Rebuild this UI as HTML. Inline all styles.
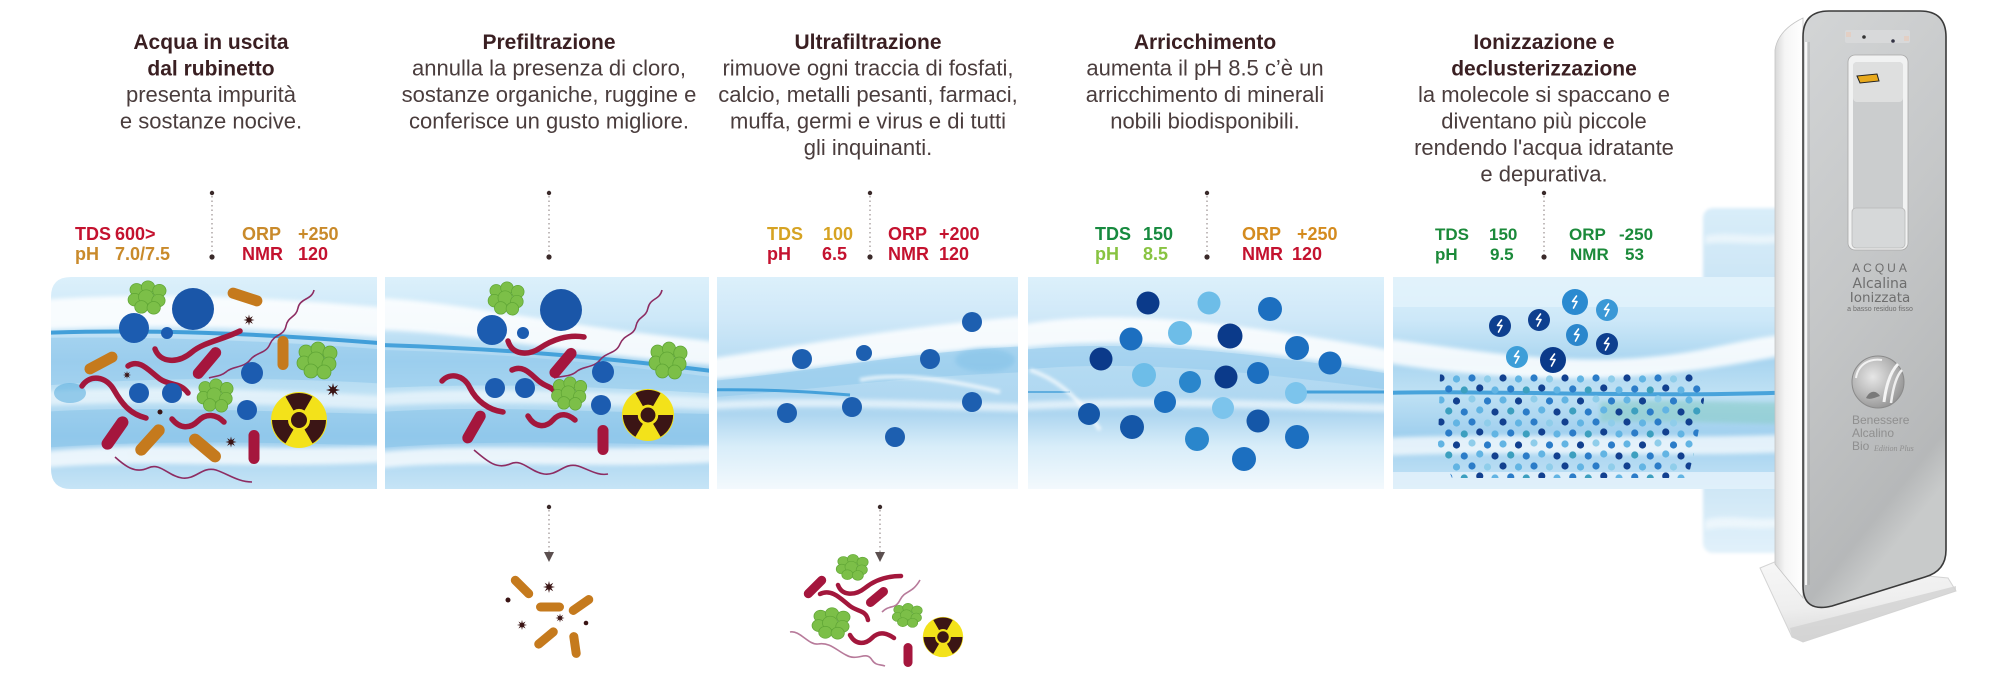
<!DOCTYPE html>
<html><head><meta charset="utf-8">
<style>
html,body{margin:0;padding:0;background:#fff;}
svg{display:block;}
</style></head><body>
<svg width="2000" height="679" viewBox="0 0 2000 679" xmlns="http://www.w3.org/2000/svg" xmlns:xlink="http://www.w3.org/1999/xlink">
<defs>
 <linearGradient id="bandG" x1="0" y1="277" x2="0" y2="489" gradientUnits="userSpaceOnUse">
  <stop offset="0" stop-color="#dcf0fb"/>
  <stop offset="0.2" stop-color="#cde8f8"/>
  <stop offset="0.4" stop-color="#a9d5f0"/>
  <stop offset="0.55" stop-color="#bfe1f4"/>
  <stop offset="0.75" stop-color="#9fcfee"/>
  <stop offset="1" stop-color="#c6e4f6"/>
 </linearGradient>
 <linearGradient id="bandW" x1="0" y1="277" x2="0" y2="489" gradientUnits="userSpaceOnUse">
  <stop offset="0" stop-color="#dcf0fb"/>
  <stop offset="0.2" stop-color="#cfe8f8"/>
  <stop offset="0.45" stop-color="#b3daf2"/>
  <stop offset="0.65" stop-color="#aed6f0"/>
  <stop offset="0.8" stop-color="#d8edf9"/>
  <stop offset="1" stop-color="#f3f9fd"/>
 </linearGradient>
 <linearGradient id="wingG" x1="0" y1="208" x2="0" y2="553" gradientUnits="userSpaceOnUse">
  <stop offset="0" stop-color="#d9edf9"/>
  <stop offset="0.2" stop-color="#cde6f6"/>
  <stop offset="0.5" stop-color="#b9ddf3"/>
  <stop offset="0.8" stop-color="#cde6f6"/>
  <stop offset="1" stop-color="#e2f1fa"/>
 </linearGradient>
 <linearGradient id="frontG" x1="0" y1="0" x2="0.3" y2="1">
  <stop offset="0" stop-color="#d3d5d6"/>
  <stop offset="0.5" stop-color="#c5c7c8"/>
  <stop offset="0.92" stop-color="#b6b8b9"/>
  <stop offset="1" stop-color="#c8caca"/>
 </linearGradient>
 <linearGradient id="sideG" x1="0" y1="0" x2="1" y2="0">
  <stop offset="0" stop-color="#d8d8d8"/>
  <stop offset="0.35" stop-color="#f5f5f5"/>
  <stop offset="1" stop-color="#ffffff"/>
 </linearGradient>
 <linearGradient id="baseG" x1="0" y1="0" x2="0.2" y2="1">
  <stop offset="0" stop-color="#f7f7f7"/>
  <stop offset="0.6" stop-color="#eeeeee"/>
  <stop offset="1" stop-color="#dadada"/>
 </linearGradient>
 <radialGradient id="logoG" cx="0.4" cy="0.4" r="0.7">
  <stop offset="0" stop-color="#e6e6e6"/>
  <stop offset="0.6" stop-color="#b4b4b4"/>
  <stop offset="1" stop-color="#8c8c8c"/>
 </radialGradient>
 <filter id="bl2" x="-20%" y="-100%" width="140%" height="300%"><feGaussianBlur stdDeviation="2"/></filter>
 <filter id="bl1" x="-20%" y="-20%" width="140%" height="140%"><feGaussianBlur stdDeviation="1.5"/></filter>
 <clipPath id="c1"><path d="M71,277 H377 V489 H71 Q51,489 51,469 V297 Q51,277 71,277 Z"/></clipPath>
 <clipPath id="c2"><rect x="385" y="277" width="324" height="212"/></clipPath>
 <clipPath id="c3"><rect x="717" y="277" width="301" height="212"/></clipPath>
 <clipPath id="c4"><rect x="1028" y="277" width="356" height="212"/></clipPath>
 <clipPath id="c5"><rect x="1393" y="277" width="400" height="212"/></clipPath>
 <path id="star" d="M5,0 L1.85,0.77 L3.54,3.54 L0.77,1.85 L0,5 L-0.77,1.85 L-3.54,3.54 L-1.85,0.77 L-5,0 L-1.85,-0.77 L-3.54,-3.54 L-0.77,-1.85 L0,-5 L0.77,-1.85 L3.54,-3.54 L1.85,-0.77 Z" fill="#3a1414"/>
 <g id="grape" stroke="#5fa535" stroke-width="0.8" fill="#7cbf48">
  <circle cx="-12" cy="-8" r="7"/><circle cx="0" cy="-11" r="7"/><circle cx="12" cy="-7" r="7"/>
  <circle cx="-14" cy="3" r="7"/><circle cx="-2" cy="0" r="8"/><circle cx="11" cy="4" r="7"/>
  <circle cx="-7" cy="11" r="7"/><circle cx="6" cy="12" r="7"/>
 </g>
 <g id="rad">
  <circle r="28" fill="#f3e21a"/>
  <g fill="#3b1515">
   <path d="M-5.5,-9.53 L-13.5,-23.38 A27,27 0 0 1 13.5,-23.38 L5.5,-9.53 A11,11 0 0 0 -5.5,-9.53 Z"/>
   <path d="M-11,0 L-27,0 A27,27 0 0 0 -13.5,23.38 L-5.5,9.53 A11,11 0 0 1 -11,0 Z"/>
   <path d="M11,0 L27,0 A27,27 0 0 1 13.5,23.38 L5.5,9.53 A11,11 0 0 0 11,0 Z"/>
   <circle r="8"/>
  </g>
 </g>
 <path id="bolt" d="M1.5,-6 L-2.5,-0.5 L2,-0.5 L-1.5,6" stroke="#fff" stroke-width="1.6" fill="none" stroke-linejoin="round" stroke-linecap="round"/>
 <pattern id="dots" x="1437" y="374" width="62" height="44" patternUnits="userSpaceOnUse">
  <circle cx="4" cy="4" r="3.6" fill="#12408f"/><circle cx="19.5" cy="5" r="3.6" fill="#62b4e3"/><circle cx="35" cy="4" r="3.6" fill="#2b7cc8"/><circle cx="50.5" cy="5" r="3.6" fill="#8fcdea"/>
  <circle cx="11.75" cy="15" r="3.6" fill="#2b7cc8"/><circle cx="27.25" cy="16" r="3.6" fill="#3c9fbf"/><circle cx="42.75" cy="14" r="3.6" fill="#12408f"/><circle cx="58" cy="16" r="3.6" fill="#62b4e3"/>
  <circle cx="4" cy="26" r="3.6" fill="#62b4e3"/><circle cx="19.5" cy="27" r="3.6" fill="#12408f"/><circle cx="35" cy="25" r="3.6" fill="#8fcdea"/><circle cx="50.5" cy="27" r="3.6" fill="#2b7cc8"/>
  <circle cx="11.75" cy="37" r="3.6" fill="#3c9fbf"/><circle cx="27.25" cy="38" r="3.6" fill="#2b7cc8"/><circle cx="42.75" cy="36" r="3.6" fill="#62b4e3"/><circle cx="58" cy="38" r="3.6" fill="#12408f"/>
 </pattern>
</defs>

<!-- ======== TOP TEXTS ======== -->
<g font-family="'Liberation Sans', Arial, sans-serif" text-anchor="middle">
 <g font-weight="bold" font-size="21" fill="#3a1f22">
  <text x="211" y="49">Acqua in uscita</text>
  <text x="211" y="75.5">dal rubinetto</text>
  <text x="549" y="49">Prefiltrazione</text>
  <text x="868" y="49">Ultrafiltrazione</text>
  <text x="1205" y="49">Arricchimento</text>
  <text x="1544" y="49">Ionizzazione e</text>
  <text x="1544" y="75.5">declusterizzazione</text>
 </g>
 <g font-size="22" fill="#4a3d3d">
  <text x="211" y="102">presenta impurità</text>
  <text x="211" y="128.5">e sostanze nocive.</text>
  <text x="549" y="75.5">annulla la presenza di cloro,</text>
  <text x="549" y="102">sostanze organiche,  ruggine e</text>
  <text x="549" y="128.5">conferisce un gusto migliore.</text>
  <text x="868" y="75.5">rimuove ogni traccia di fosfati,</text>
  <text x="868" y="102">calcio, metalli pesanti, farmaci,</text>
  <text x="868" y="128.5">muffa, germi e virus e di tutti</text>
  <text x="868" y="155">gli inquinanti.</text>
  <text x="1205" y="75.5">aumenta il pH 8.5 c’è un</text>
  <text x="1205" y="102">arricchimento di minerali</text>
  <text x="1205" y="128.5">nobili biodisponibili.</text>
  <text x="1544" y="102">la molecole si spaccano e</text>
  <text x="1544" y="128.5">diventano più piccole</text>
  <text x="1544" y="155">rendendo l'acqua idratante</text>
  <text x="1544" y="181.5">e depurativa.</text>
 </g>
</g>

<!-- dotted connectors -->
<g>
 <g stroke="#9a8f8f" stroke-width="1.2" stroke-dasharray="1.5,3">
  <line x1="212" y1="196" x2="212" y2="255"/>
  <line x1="549" y1="196" x2="549" y2="255"/>
  <line x1="870" y1="196" x2="870" y2="255"/>
  <line x1="1207" y1="196" x2="1207" y2="255"/>
  <line x1="1544" y1="196" x2="1544" y2="255"/>
  <line x1="549" y1="510" x2="549" y2="552"/>
  <line x1="880" y1="510" x2="880" y2="552"/>
 </g>
 <g fill="#3a2a2a">
  <circle cx="212" cy="193" r="2.2"/><circle cx="212" cy="257" r="2.6"/>
  <circle cx="549" cy="193" r="2.2"/><circle cx="549" cy="257" r="2.6"/>
  <circle cx="870" cy="193" r="2.2"/><circle cx="870" cy="257" r="2.6"/>
  <circle cx="1207" cy="193" r="2.2"/><circle cx="1207" cy="257" r="2.6"/>
  <circle cx="1544" cy="193" r="2.2"/><circle cx="1544" cy="257" r="2.6"/>
  <circle cx="549" cy="507" r="2.2"/><circle cx="880" cy="507" r="2.2"/>
 </g>
 <polygon points="544,552 554,552 549,562" fill="#5b4f4f"/>
 <polygon points="875,552 885,552 880,562" fill="#5b4f4f"/>
</g>

<!-- stats -->
<g font-family="'Liberation Sans', Arial, sans-serif" font-weight="bold" font-size="18">
 <text x="75" y="240" fill="#c4122f">TDS</text><text x="115" y="240" fill="#c4122f">600&gt;</text>
 <text x="75" y="260" fill="#c98a2b">pH</text><text x="115" y="260" fill="#c98a2b">7.0/7.5</text>
 <text x="242" y="240" fill="#c98a2b">ORP</text><text x="298" y="240" fill="#c98a2b">+250</text>
 <text x="242" y="260" fill="#c4122f">NMR</text><text x="298" y="260" fill="#c4122f">120</text>

 <text x="767" y="240" fill="#d6a323">TDS</text><text x="823" y="240" fill="#d6a323">100</text>
 <text x="767" y="260" fill="#c4122f">pH</text><text x="822" y="260" fill="#c4122f">6.5</text>
 <text x="888" y="240" fill="#c4122f">ORP</text><text x="939" y="240" fill="#c4122f">+200</text>
 <text x="888" y="260" fill="#c4122f">NMR</text><text x="939" y="260" fill="#c4122f">120</text>

 <text x="1095" y="240" fill="#178a3f">TDS</text><text x="1143" y="240" fill="#178a3f">150</text>
 <text x="1095" y="260" fill="#88c341">pH</text><text x="1143" y="260" fill="#88c341">8.5</text>
 <text x="1242" y="240" fill="#d48b1f">ORP</text><text x="1297" y="240" fill="#d48b1f">+250</text>
 <text x="1242" y="260" fill="#c4122f">NMR</text><text x="1292" y="260" fill="#c4122f">120</text>

 <g fill="#1b8a3a" font-size="17">
  <text x="1435" y="240">TDS</text><text x="1489" y="240">150</text>
  <text x="1435" y="260">pH</text><text x="1490" y="260">9.5</text>
  <text x="1569" y="240">ORP</text><text x="1619" y="240">-250</text>
  <text x="1570" y="260">NMR</text><text x="1625" y="260">53</text>
 </g>
</g>

<!-- ======== ARROW WINGS ======== -->
<rect x="1703" y="208" width="95" height="345" rx="10" fill="url(#wingG)" filter="url(#bl1)"/>
<path d="M1705,236 C1730,230 1760,240 1790,232 L1790,240 C1760,248 1730,240 1705,244 Z" fill="#fff" opacity=".5" filter="url(#bl2)"/>
<path d="M1705,520 C1730,512 1760,524 1790,516 L1790,526 C1760,532 1730,524 1705,530 Z" fill="#fff" opacity=".5" filter="url(#bl2)"/>

<!-- ======== PANEL 1 ======== -->
<g clip-path="url(#c1)">
 <rect x="40" y="277" width="350" height="212" fill="url(#bandG)"/>
 <path d="M40,300 C140,292 260,296 390,308 L390,338 C260,326 140,324 40,330 Z" fill="#fff" opacity=".85" filter="url(#bl2)"/>
 <path d="M40,333 C140,329 260,333 390,344" stroke="#2b93d4" stroke-width="4" fill="none" opacity=".85"/>
 <path d="M40,338 C140,336 260,340 390,350 L390,384 C260,376 140,378 40,386 Z" fill="#8ec7eb" opacity=".55"/>
 <path d="M40,392 C150,384 260,390 390,396 L390,410 C260,404 150,400 40,406 Z" fill="#fff" opacity=".55" filter="url(#bl2)"/>
 <path d="M40,412 C150,405 260,412 390,414 L390,446 C260,442 150,440 40,448 Z" fill="#7fbfe6" opacity=".45"/>
 <path d="M40,452 C150,440 260,452 390,446 L390,462 C260,470 150,458 40,468 Z" fill="#fff" opacity=".75" filter="url(#bl2)"/>
 <ellipse cx="70" cy="393" rx="16" ry="10" fill="#5fb0e0" opacity=".6"/>
</g>
<!-- P1 contents -->
<g>
 <path d="M314,290 C312,300 300,298 298,308 C296,318 288,316 286,326 C284,336 274,334 270,344 C266,354 256,352 250,360 C244,368 232,366 226,372 C220,377 214,376 209,378" stroke="#8d2c62" stroke-width="1.6" fill="none"/>
 <path d="M115,457 C125,466 135,474 148,468 C160,462 168,476 182,478 C196,480 202,466 216,470 C228,474 238,482 252,482" stroke="#8d2c62" stroke-width="1.6" fill="none"/>
 <use xlink:href="#grape" href="#grape" transform="translate(148,297) scale(0.95,0.9)"/>
 <circle cx="193" cy="309" r="21" fill="#1a56a8"/>
 <circle cx="134" cy="328" r="15" fill="#1c5cb0"/>
 <circle cx="167" cy="333" r="6" fill="#1c5cb0"/>
 <rect x="-18" y="-5.5" width="36" height="11" rx="5.5" transform="translate(245,297) rotate(18)" fill="#c57a1d"/>
 <use xlink:href="#star" href="#star" transform="translate(249,320) scale(1.1)"/>
 <g stroke="#a3173c" stroke-width="5.5" fill="none" stroke-linecap="round">
  <path d="M155,349 C160,363 178,364 192,352 C204,342 222,340 240,331"/>
  <path d="M82,386 C90,374 106,376 114,390 C122,404 130,414 146,418"/>
  <path d="M128,366 C140,358 150,372 160,379 C170,386 180,382 188,393"/>
  <path d="M172,419 C180,429 190,429 198,421 C206,413 216,414 224,422"/>
 </g>
 <rect x="-18" y="-5.5" width="36" height="11" rx="5.5" transform="translate(101,363) rotate(-28)" fill="#c57a1d"/>
 <rect x="-19" y="-5.5" width="38" height="11" rx="5.5" transform="translate(207,363) rotate(-50)" fill="#a5163d"/>
 <use xlink:href="#star" href="#star" transform="translate(127,375) scale(0.8)"/>
 <rect x="-17" y="-5.5" width="34" height="11" rx="5.5" transform="translate(283,353) rotate(90)" fill="#c57a1d"/>
 <use xlink:href="#grape" href="#grape" transform="translate(318,360) scale(1,1)"/>
 <circle cx="252" cy="373" r="11" fill="#1c5cb0"/>
 <circle cx="139" cy="393" r="10" fill="#1c5cb0"/>
 <circle cx="172" cy="393" r="10" fill="#1c5cb0"/>
 <use xlink:href="#grape" href="#grape" transform="translate(216,395) scale(0.9,0.9)"/>
 <circle cx="247" cy="410" r="10" fill="#1c5cb0"/>
 <use xlink:href="#rad" href="#rad" transform="translate(299,420)"/>
 <use xlink:href="#star" href="#star" transform="translate(333,390) scale(1.4)"/>
 <circle cx="160" cy="412" r="2.5" fill="#3a1414"/>
 <rect x="-19" y="-6" width="38" height="12" rx="6" transform="translate(115,433) rotate(-55)" fill="#a5163d"/>
 <rect x="-19" y="-6" width="38" height="12" rx="6" transform="translate(150,440) rotate(-48)" fill="#c57a1d"/>
 <rect x="-19" y="-6" width="38" height="12" rx="6" transform="translate(205,448) rotate(40)" fill="#c57a1d"/>
 <use xlink:href="#star" href="#star" transform="translate(231,442) scale(1.1)"/>
 <rect x="-17" y="-5.5" width="34" height="11" rx="5.5" transform="translate(254,447) rotate(90)" fill="#a5163d"/>
</g>

<!-- ======== PANEL 2 ======== -->
<g clip-path="url(#c2)">
 <rect x="380" y="277" width="340" height="212" fill="url(#bandG)"/>
 <path d="M380,298 C460,302 560,326 720,342 L720,366 C560,352 460,332 380,330 Z" fill="#fff" opacity=".85" filter="url(#bl2)"/>
 <path d="M380,345 C470,348 560,352 720,372" stroke="#2b93d4" stroke-width="4" fill="none" opacity=".8"/>
 <path d="M380,350 C470,352 560,358 720,378 L720,394 C560,384 470,384 380,388 Z" fill="#8ec7eb" opacity=".5"/>
 <path d="M380,394 C480,386 580,392 720,398 L720,410 C580,404 480,400 380,406 Z" fill="#fff" opacity=".55" filter="url(#bl2)"/>
 <path d="M380,412 C480,405 580,412 720,414 L720,446 C580,442 480,440 380,448 Z" fill="#7fbfe6" opacity=".45"/>
 <path d="M380,452 C480,442 580,452 720,446 L720,462 C580,470 480,458 380,468 Z" fill="#fff" opacity=".75" filter="url(#bl2)"/>
</g>
<g>
 <path d="M662,290 C660,300 650,298 648,308 C646,318 638,316 636,326 C634,336 624,334 620,344 C616,354 606,352 600,360 C594,368 582,366 576,372 C570,377 560,376 554,378" stroke="#8d2c62" stroke-width="1.6" fill="none"/>
 <path d="M474,450 C486,460 496,470 510,464 C522,458 530,472 544,474 C558,476 564,462 578,466 C590,470 598,476 608,474" stroke="#8d2c62" stroke-width="1.6" fill="none"/>
 <use xlink:href="#grape" href="#grape" transform="translate(507,298) scale(0.9,0.9)"/>
 <circle cx="561" cy="310" r="21" fill="#1a56a8"/>
 <circle cx="492" cy="330" r="15" fill="#1c5cb0"/>
 <circle cx="523" cy="333" r="6" fill="#1c5cb0"/>
 <g stroke="#a3173c" stroke-width="5.5" fill="none" stroke-linecap="round">
  <path d="M508,341 C512,355 528,356 540,348 C552,340 568,334 584,337"/>
  <path d="M442,381 C450,372 464,375 470,388 C476,400 488,410 503,412"/>
  <path d="M512,370 C524,364 532,376 540,382 C548,388 552,386 556,394"/>
  <path d="M528,416 C535,428 546,428 553,420 C560,412 568,414 575,420"/>
 </g>
 <rect x="-18" y="-5.5" width="36" height="11" rx="5.5" transform="translate(563,363) rotate(-50)" fill="#a5163d"/>
 <use xlink:href="#grape" href="#grape" transform="translate(669,360) scale(0.95,1)"/>
 <circle cx="603" cy="372" r="11" fill="#1c5cb0"/>
 <circle cx="495" cy="388" r="10" fill="#1c5cb0"/>
 <circle cx="525" cy="388" r="10" fill="#1c5cb0"/>
 <use xlink:href="#grape" href="#grape" transform="translate(570,393) scale(0.88,0.9)"/>
 <circle cx="601" cy="405" r="10" fill="#1c5cb0"/>
 <use xlink:href="#rad" href="#rad" transform="translate(648,415) scale(0.93)"/>
 <rect x="-18" y="-5.5" width="36" height="11" rx="5.5" transform="translate(474,427) rotate(-60)" fill="#a5163d"/>
 <rect x="-15" y="-5.5" width="30" height="11" rx="5.5" transform="translate(603,440) rotate(90)" fill="#a5163d"/>
</g>

<!-- ======== PANEL 3 ======== -->
<g clip-path="url(#c3)">
 <rect x="710" y="277" width="320" height="212" fill="url(#bandW)"/>
 <path d="M700,360 C800,346 900,326 1030,316 L1030,345 C900,352 800,372 700,380 Z" fill="#fff" opacity=".85" filter="url(#bl2)"/>
 <path d="M700,382 C800,374 900,352 1030,346 L1030,372 C900,376 800,392 700,398 Z" fill="#8fc8eb" opacity=".55"/>
 <path d="M700,390 C760,389 800,391 850,395" stroke="#2b93d4" stroke-width="3" fill="none" opacity=".8"/>
 <path d="M860,380 C900,372 950,380 1000,392" stroke="#fff" stroke-width="4" fill="none" opacity=".7" filter="url(#bl1)"/>
 <ellipse cx="985" cy="360" rx="30" ry="12" fill="#7fbfe6" opacity=".5" filter="url(#bl2)"/>
 <path d="M700,402 C800,396 900,400 1030,404 L1030,412 C900,408 800,404 700,410 Z" fill="#fff" opacity=".6" filter="url(#bl2)"/>
</g>
<g>
 <circle cx="802" cy="359" r="10" fill="#1d5fb0"/>
 <circle cx="864" cy="353" r="8" fill="#1d5fb0"/>
 <circle cx="930" cy="359" r="10" fill="#1d5fb0"/>
 <circle cx="972" cy="322" r="10" fill="#1d5fb0"/>
 <circle cx="787" cy="413" r="10" fill="#1d5fb0"/>
 <circle cx="852" cy="407" r="10" fill="#1d5fb0"/>
 <circle cx="972" cy="402" r="10" fill="#1d5fb0"/>
 <circle cx="895" cy="437" r="10" fill="#1d5fb0"/>
</g>

<!-- ======== PANEL 4 ======== -->
<g clip-path="url(#c4)">
 <rect x="1020" y="277" width="370" height="212" fill="url(#bandW)"/>
 <path d="M1020,325 C1100,310 1200,316 1390,350 L1390,372 C1200,340 1100,338 1020,348 Z" fill="#fff" opacity=".85" filter="url(#bl2)"/>
 <path d="M1020,350 C1100,342 1200,344 1390,374 L1390,390 C1200,364 1100,362 1020,370 Z" fill="#8fc8eb" opacity=".5"/>
 <path d="M1290,392 L1390,392" stroke="#2b93d4" stroke-width="3" fill="none" opacity=".8"/>
 <path d="M1020,392 L1070,392" stroke="#2b93d4" stroke-width="2" fill="none" opacity=".6"/>
 <path d="M1030,370 C1060,380 1080,400 1100,430" stroke="#fff" stroke-width="4" fill="none" opacity=".7" filter="url(#bl1)"/>
 <path d="M1020,402 C1150,396 1250,400 1390,404 L1390,412 C1250,408 1150,404 1020,410 Z" fill="#fff" opacity=".6" filter="url(#bl2)"/>
</g>
<g>
 <circle cx="1148" cy="303" r="11.5" fill="#0b3a8a"/>
 <circle cx="1209" cy="303" r="11.5" fill="#6dbde8"/>
 <circle cx="1270" cy="309" r="12" fill="#1c6fc0"/>
 <circle cx="1131" cy="339" r="11.5" fill="#1c6fc0"/>
 <circle cx="1180" cy="333" r="12" fill="#6dbde8"/>
 <circle cx="1230" cy="336" r="12.5" fill="#0b3a8a"/>
 <circle cx="1297" cy="348" r="12" fill="#1c6fc0"/>
 <circle cx="1330" cy="363" r="11.5" fill="#1c6fc0"/>
 <circle cx="1101" cy="359" r="11.5" fill="#0b3a8a"/>
 <circle cx="1144" cy="375" r="12" fill="#6dbde8"/>
 <circle cx="1190" cy="382" r="11" fill="#2a86cc"/>
 <circle cx="1226" cy="377" r="11.5" fill="#0b3a8a"/>
 <circle cx="1258" cy="373" r="11" fill="#1c6fc0"/>
 <circle cx="1296" cy="393" r="11" fill="#7cc4ec"/>
 <circle cx="1089" cy="414" r="11" fill="#1557a8"/>
 <circle cx="1165" cy="402" r="11" fill="#1c6fc0"/>
 <circle cx="1223" cy="408" r="11" fill="#7cc4ec"/>
 <circle cx="1132" cy="427" r="12" fill="#1557a8"/>
 <circle cx="1197" cy="439" r="12" fill="#2a86cc"/>
 <circle cx="1258" cy="421" r="11.5" fill="#1557a8"/>
 <circle cx="1297" cy="437" r="12" fill="#1c6fc0"/>
 <circle cx="1244" cy="459" r="12" fill="#1c6fc0"/>
</g>

<!-- ======== PANEL 5 ======== -->
<g clip-path="url(#c5)">
 <rect x="1390" y="277" width="410" height="212" fill="url(#bandG)"/>
 <rect x="1390" y="277" width="410" height="30" fill="#e2f2fb" opacity=".8"/>
 <path d="M1380,338 C1480,350 1580,372 1700,350 C1740,342 1770,334 1800,334 L1800,352 C1700,372 1580,394 1380,362 Z" fill="#fff" opacity=".85" filter="url(#bl2)"/>
 <path d="M1380,393 C1500,390 1650,398 1800,392" stroke="#2b93d4" stroke-width="4" fill="none" opacity=".8"/>
 <path d="M1600,402 C1680,398 1740,404 1800,402 L1800,424 C1740,424 1680,420 1600,422 Z" fill="#86cbc4" opacity=".55" filter="url(#bl2)"/>
 <path d="M1380,438 C1500,432 1650,440 1800,434 L1800,452 C1650,458 1500,450 1380,456 Z" fill="#fff" opacity=".7" filter="url(#bl2)"/>
 <rect x="1390" y="472" width="410" height="17" fill="#e6f3fb" opacity=".8"/>
</g>
<path d="M1440,373 L1700,373 L1704,400 L1697,440 L1688,478 L1452,478 L1438,445 Z" fill="url(#dots)"/>
<g>
 <circle cx="1500" cy="326" r="11" fill="#0e3f8f"/><use xlink:href="#bolt" href="#bolt" transform="translate(1500,326)"/>
 <circle cx="1539" cy="320" r="11" fill="#0e3f8f"/><use xlink:href="#bolt" href="#bolt" transform="translate(1539,320)"/>
 <circle cx="1575" cy="302" r="13" fill="#2a8ad0"/><use xlink:href="#bolt" href="#bolt" transform="translate(1575,302)"/>
 <circle cx="1607" cy="310" r="11" fill="#3a98d6"/><use xlink:href="#bolt" href="#bolt" transform="translate(1607,310)"/>
 <circle cx="1577" cy="335" r="11" fill="#2a86cc"/><use xlink:href="#bolt" href="#bolt" transform="translate(1577,335)"/>
 <circle cx="1607" cy="344" r="11" fill="#0e3f8f"/><use xlink:href="#bolt" href="#bolt" transform="translate(1607,344)"/>
 <circle cx="1517" cy="357" r="11" fill="#3d9ed8"/><use xlink:href="#bolt" href="#bolt" transform="translate(1517,357)"/>
 <circle cx="1553" cy="360" r="13" fill="#0a3a8a"/><use xlink:href="#bolt" href="#bolt" transform="translate(1553,360)"/>
</g>

<!-- ======== BOTTOM DEBRIS ======== -->
<g>
 <rect x="-14" y="-4.5" width="28" height="9" rx="4.5" transform="translate(522,587) rotate(45)" fill="#c57a1d"/>
 <use xlink:href="#star" href="#star" transform="translate(549,587) scale(1.2)"/>
 <circle cx="508" cy="600" r="2.5" fill="#3a1414"/>
 <rect x="-14" y="-4.5" width="28" height="9" rx="4.5" transform="translate(550,607)" fill="#c57a1d"/>
 <rect x="-14" y="-4.5" width="28" height="9" rx="4.5" transform="translate(581,605) rotate(-35)" fill="#c57a1d"/>
 <use xlink:href="#star" href="#star" transform="translate(522,625) scale(1)"/>
 <use xlink:href="#star" href="#star" transform="translate(560,618) scale(0.9)"/>
 <circle cx="586" cy="623" r="2.3" fill="#3a1414"/>
 <rect x="-14" y="-4.5" width="28" height="9" rx="4.5" transform="translate(546,638) rotate(-40)" fill="#c57a1d"/>
 <rect x="-13" y="-4.5" width="26" height="9" rx="4.5" transform="translate(575,645) rotate(82)" fill="#c57a1d"/>
</g>
<g>
 <path d="M790,632 C800,630 808,645 818,644 C830,642 836,650 846,655 C858,662 866,650 872,660 C876,666 880,664 885,666" stroke="#b77a9a" stroke-width="1.6" fill="none"/>
 <path d="M882,612 C890,604 895,610 900,600 C905,590 912,594 920,580" stroke="#b77a9a" stroke-width="1.6" fill="none"/>
 <use xlink:href="#grape" href="#grape" transform="translate(853,567) scale(0.8,0.7)"/>
 <rect x="-14" y="-4.5" width="28" height="9" rx="4.5" transform="translate(815,587) rotate(-45)" fill="#a5163d"/>
 <rect x="-13" y="-4.5" width="26" height="9" rx="4.5" transform="translate(877,597) rotate(-40)" fill="#a5163d"/>
 <g stroke="#a3173c" stroke-width="4.5" fill="none" stroke-linecap="round">
  <path d="M838,585 C842,596 855,596 865,588 C875,580 888,576 901,576"/>
  <path d="M820,594 C832,588 842,600 850,606 C858,612 866,610 868,620"/>
  <path d="M850,635 C856,646 866,644 872,638 C880,630 888,634 894,638"/>
 </g>
 <use xlink:href="#grape" href="#grape" transform="translate(832,623) scale(0.95,0.85)"/>
 <use xlink:href="#grape" href="#grape" transform="translate(908,615) scale(0.75,0.65)"/>
 <rect x="-12" y="-4.5" width="24" height="9" rx="4.5" transform="translate(908,655) rotate(90)" fill="#a5163d"/>
 <use xlink:href="#rad" href="#rad" transform="translate(943,637) scale(0.72)"/>
</g>

<!-- ======== MACHINE ======== -->
<g>
 <polygon points="1760,568 1777,561 1948,578 1956,591 1803,642 1792,637" fill="url(#baseG)" stroke="#d4d4d4" stroke-width="1"/>
 <polygon points="1790,628 1956,586 1956,591 1803,642 1792,637" fill="#d2d2d2" opacity=".8"/>
 <path d="M1775,50 Q1778,30 1803,18 L1803,598 L1775,564 Z" fill="url(#sideG)" stroke="#c4c4c4" stroke-width="0.8"/>
 <path d="M1829,11 H1920 Q1946,11 1946,37 V550 Q1946,571 1925,577 L1832,606 Q1803,613 1803,586 V37 Q1803,11 1829,11 Z" fill="url(#frontG)" stroke="#3a3a3a" stroke-width="1.6"/>
 <path d="M1806,42 V585" stroke="#ffffff" stroke-width="2" opacity=".85"/>
 <path d="M1809,42 V585" stroke="#9a9a9a" stroke-width="1" opacity=".6"/>
 <!-- control strip -->
 <rect x="1845" y="30" width="65" height="13" rx="2" fill="#d8d9da"/>
 <rect x="1846" y="32" width="5" height="5" fill="#e3cfc4"/>
 <rect x="1904" y="36" width="5" height="5" fill="#e3cfc4"/>
 <circle cx="1864" cy="37" r="1.8" fill="#333"/>
 <circle cx="1893" cy="41" r="1.8" fill="#334"/>
 <!-- niche -->
 <rect x="1848" y="55" width="60" height="195" rx="7" fill="#f1f2f2" stroke="#a8a8a8" stroke-width="0.8"/>
 <rect x="1853" y="62" width="50" height="183" rx="4" fill="#cbcdce"/>
 <rect x="1853" y="62" width="50" height="40" rx="4" fill="#e2e3e4" opacity=".8"/>
 <polygon points="1857,76 1877,74 1879,81 1860,83" fill="#e8a91c" stroke="#222" stroke-width="1"/>
 <rect x="1852" y="208" width="53" height="40" rx="4" fill="#d6d8d9" stroke="#b8b8b8" stroke-width="0.8"/>
 <!-- labels -->
 <g text-anchor="middle" fill="#6e6e6e">
  <text x="1881" y="272" font-family="'Liberation Sans', Arial, sans-serif" font-size="12" letter-spacing="3">ACQUA</text>
  <text x="1880" y="288" font-family="'DejaVu Sans', 'Liberation Sans', sans-serif" font-size="14">Alcalina</text>
  <text x="1880" y="302" font-family="'DejaVu Sans', 'Liberation Sans', sans-serif" font-size="13.5">Ionizzata</text>
  <text x="1880" y="311" font-family="'Liberation Sans', Arial, sans-serif" font-size="7">a basso residuo fisso</text>
 </g>
 <!-- logo -->
 <circle cx="1878" cy="382" r="26" fill="url(#logoG)" stroke="#8a8a8a" stroke-width="1"/>
 <path d="M1856,378 C1858,364 1870,358 1882,360" stroke="#f2f2f2" stroke-width="2" fill="none"/>
 <path d="M1884,402 C1886,386 1890,372 1898,364" stroke="#f4f4f4" stroke-width="3" fill="none"/>
 <path d="M1891,403 C1893,388 1896,376 1902,370" stroke="#eeeeee" stroke-width="2.5" fill="none"/>
 <path d="M1866,398 C1870,390 1876,390 1880,396 C1874,398 1870,400 1866,398 Z" fill="#7a7a7a"/>
 <g font-family="'Liberation Sans', Arial, sans-serif" font-size="12" fill="#8f8f8f">
  <text x="1852" y="424">Benessere</text>
  <text x="1852" y="437">Alcalino</text>
  <text x="1852" y="450">Bio</text>
  <text x="1874" y="451" font-style="italic" font-size="8" font-family="'Liberation Serif', serif">Edition Plus</text>
 </g>
</g>
</svg>
</body></html>
